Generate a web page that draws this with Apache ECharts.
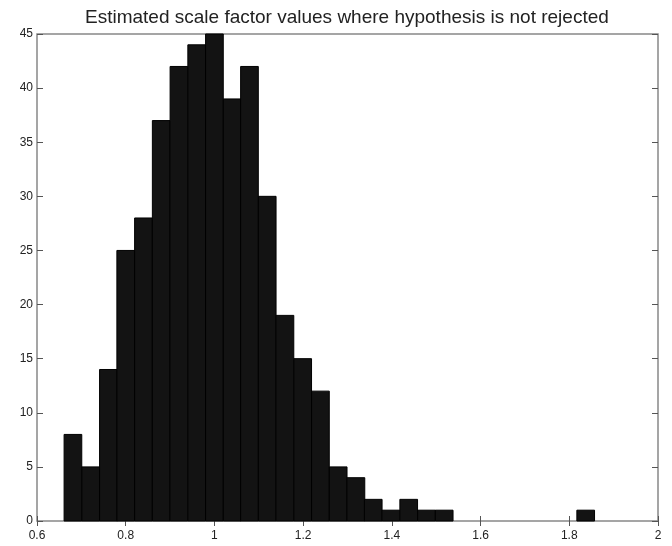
<!DOCTYPE html>
<html>
<head>
<meta charset="utf-8">
<script src="https://cdn.jsdelivr.net/npm/echarts@6/dist/echarts.min.js"></script>
<style>
  html, body { margin: 0; padding: 0; background: #fff; }
  #hist { width: 672px; height: 546px; }
</style>
</head>
<body>
<div id="hist"></div>
<script>
// histogram bins (centres) and counts
var binCenters = [0.681, 0.721, 0.761, 0.800, 0.840, 0.880, 0.920, 0.960, 1.000, 1.040,
                  1.079, 1.119, 1.159, 1.199, 1.239, 1.279, 1.319, 1.358, 1.398, 1.438,
                  1.478, 1.518, 1.558, 1.597, 1.637, 1.677, 1.717, 1.757, 1.797, 1.837];
var counts = [8, 5, 14, 25, 28, 37, 42, 44, 45, 39,
              42, 30, 19, 15, 12, 5, 4, 2, 1, 2,
              1, 1, 0, 0, 0, 0, 0, 0, 0, 1];
var binWidth = 0.03985;
var titleText = 'Estimated scale factor values where hypothesis is not rejected';

var chart = echarts.init(document.getElementById('hist'));

var data = binCenters.map(function (c, i) {
    return [c, counts[i]];
});

var axisFont = {
    color: '#222',
    fontSize: 12,
    fontFamily: 'Liberation Sans, Arial, sans-serif'
};
var tickLine = { color: '#555', width: 1 };

var option = {
    animation: false,
    title: {
        text: titleText,
        left: 80,
        top: 3,
        textStyle: {
            color: '#222',
            fontSize: 19,
            fontWeight: 'normal',
            fontFamily: 'Liberation Sans, Arial, sans-serif'
        }
    },
    grid: {
        left: 37,
        right: 14,
        top: 34,
        bottom: 25,
        show: true,
        borderColor: '#888',
        borderWidth: 1.5,
        backgroundColor: '#fff'
    },
    xAxis: [{
        type: 'value',
        min: 0.6,
        max: 2,
        interval: 0.2,
        splitLine: { show: false },
        axisLine: { show: false },
        axisTick: { show: true, inside: true, length: 5, lineStyle: tickLine },
        axisLabel: Object.assign({ margin: 9 }, axisFont)
    }, {
        type: 'value',
        position: 'top',
        min: 0.6,
        max: 2,
        interval: 0.2,
        splitLine: { show: false },
        axisLine: { show: false },
        axisTick: { show: true, inside: true, length: 5, lineStyle: tickLine },
        axisLabel: { show: false }
    }],
    yAxis: [{
        type: 'value',
        min: 0,
        max: 45,
        interval: 5,
        splitLine: { show: false },
        axisLine: { show: false },
        axisTick: { show: true, inside: true, length: 6, lineStyle: tickLine },
        axisLabel: Object.assign({ margin: 4 }, axisFont)
    }, {
        type: 'value',
        position: 'right',
        min: 0,
        max: 45,
        interval: 5,
        splitLine: { show: false },
        axisLine: { show: false },
        axisTick: { show: true, inside: true, length: 6, lineStyle: tickLine },
        axisLabel: { show: false }
    }],
    series: [{
        type: 'custom',
        xAxisIndex: 0,
        yAxisIndex: 0,
        data: data,
        renderItem: function (params, api) {
            var c = api.value(0);
            var v = api.value(1);
            if (!v) return null;
            var p0 = api.coord([c - binWidth / 2, v]);
            var p1 = api.coord([c + binWidth / 2, 0]);
            return {
                type: 'rect',
                shape: { x: p0[0], y: p0[1], width: p1[0] - p0[0], height: p1[1] - p0[1] },
                style: { fill: '#131313', stroke: '#000', lineWidth: 1 }
            };
        },
        z: 3
    }]
};

chart.setOption(option);
window.addEventListener('resize', function () {
    chart.resize();
});
</script>
</body>
</html>
